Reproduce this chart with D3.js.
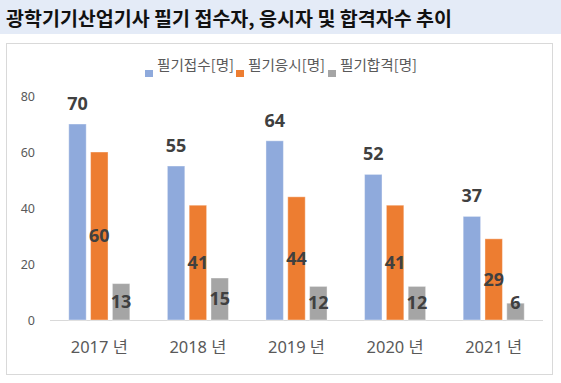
<!DOCTYPE html>
<html><head><meta charset="utf-8">
<script src="https://cdn.jsdelivr.net/npm/d3@7"></script>
<style>body{margin:0;background:#fff}svg{display:block}</style>
</head><body>
<svg id="c" width="561" height="383"></svg>
<script>
const years = ["2017 년","2018 년","2019 년","2020 년","2021 년"];
const seriesNames = ["필기접수[명]","필기응시[명]","필기합격[명]"];
const applied = [70,55,64,52,37];
const tested = [60,41,44,41,29];
const passed = [13,15,12,12,6];
const yTicks = [0,20,40,60,80];
const colors = ["#8faadc","#ed7d31","#a5a5a5"];
const title = "광학기기산업기사 필기 접수자, 응시자 및 합격자수 추이";

const svg = d3.select("#c");
const sans = "'Noto Sans','Noto Sans CJK KR',sans-serif";

// title band
svg.append("rect").attr("x",0).attr("y",0).attr("width",561).attr("height",34).attr("fill","#e4ebf7");
svg.append("text").attr("x",6).attr("y",26).attr("font-family","'Noto Sans CJK KR',sans-serif")
  .attr("font-weight","bold").attr("font-size",19).attr("fill","#111").attr("textLength",446)
  .attr("lengthAdjust","spacingAndGlyphs").text(title);

// chart box
svg.append("rect").attr("x",6.5).attr("y",43.5).attr("width",546).attr("height",331)
  .attr("fill","#fff").attr("stroke","#d9d9d9");

const x0 = d3.scaleBand().domain(years).range([50,543]).padding(0);
const x1 = d3.scaleBand().domain(d3.range(3)).range([0,x0.bandwidth()]).paddingInner(0.2).paddingOuter(0.86);
const y = d3.scaleLinear().domain([0,80]).range([320,96]);

// y labels
const ya = svg.append("g").attr("transform","translate(35,0)")
  .call(d3.axisLeft(y).tickValues(yTicks).tickSize(0).tickPadding(0));
ya.select(".domain").remove();
ya.selectAll("text").attr("font-family",sans).attr("font-size",12.5).attr("fill","#595959");

// baseline
svg.append("line").attr("x1",50).attr("x2",543).attr("y1",y(0)+0.5).attr("y2",y(0)+0.5).attr("stroke","#d9d9d9");

// x labels
const xa = svg.append("g").attr("transform",`translate(0,${y(0)})`)
  .call(d3.axisBottom(x0).tickSize(0).tickPadding(22));
xa.select(".domain").remove();
xa.selectAll("text").attr("font-family",sans).attr("font-size",15.5).attr("fill","#595959")
  .attr("textLength",57).attr("lengthAdjust","spacingAndGlyphs");

const series = [applied,tested,passed];
const data = [];
years.forEach((yr,i)=>series.forEach((s,j)=>data.push({yr,j,v:s[i]})));

svg.append("g").selectAll("rect").data(data).join("rect")
  .attr("x",d=>x0(d.yr)+x1(d.j)).attr("width",x1.bandwidth())
  .attr("y",d=>y(d.v)).attr("height",d=>y(0)-y(d.v))
  .attr("fill",d=>colors[d.j]).attr("stroke","#fff").attr("stroke-opacity",0.4);

svg.append("g").selectAll("text").data(data).join("text")
  .attr("x",d=>x0(d.yr)+x1(d.j)+x1.bandwidth()/2)
  .attr("y",d=> d.j===0 ? y(d.v)-14 : Math.min((y(d.v)+y(0))/2, y(0)-17))
  .attr("dy",d=> d.j===0 ? 0 : "0.35em")
  .attr("text-anchor","middle").attr("font-family",sans).attr("font-weight","bold")
  .attr("font-size",18).attr("fill","#404040").text(d=>d.v);

// legend
const legX = [145,236,328];
const lg = svg.append("g");
seriesNames.forEach((n,i)=>{
  lg.append("rect").attr("x",legX[i]).attr("y",70).attr("width",8).attr("height",7).attr("fill",colors[i]);
  lg.append("text").attr("x",legX[i]+12).attr("y",70).attr("font-family","'Noto Sans CJK KR',sans-serif")
    .attr("font-size",14).attr("fill","#595959").attr("textLength",77)
    .attr("lengthAdjust","spacingAndGlyphs").text(n);
});
</script>
</body></html>
